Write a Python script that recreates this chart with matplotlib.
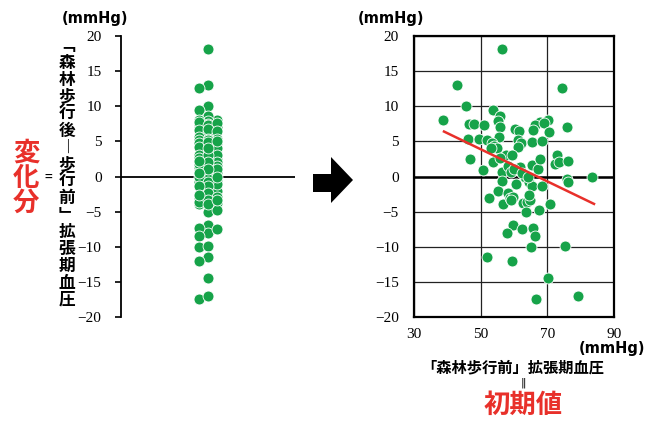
import numpy as np
import matplotlib
matplotlib.use("Agg")
import matplotlib.pyplot as plt
from matplotlib.patches import Polygon

# initial (pre-walk) diastolic pressure, mmHg
x_init = [56.3, 43.0, 74.3, 45.5, 38.6, 53.6, 55.8, 55.1, 55.9, 46.6,
          48.0, 51.0, 75.8, 70.3, 67.8, 66.3, 69.0, 65.8, 70.5, 60.3,
          61.6, 46.3, 49.5, 55.5, 52.0, 53.3, 54.0, 54.8, 61.3, 62.2,
          61.1, 65.4, 68.3, 46.8, 57.5, 59.4, 53.6, 55.8, 50.6, 56.3,
          58.3, 59.0, 61.8, 65.3, 67.3, 67.8, 72.8, 72.3, 73.6, 76.2,
          83.3, 75.8, 76.2, 56.3, 55.3, 60.5, 63.3, 64.4, 65.3, 68.4,
          56.8, 52.6, 58.3, 58.8, 59.8, 62.8, 63.8, 64.8, 64.6, 63.6,
          67.6, 70.8, 59.8, 58.0, 62.3, 65.6, 66.4, 65.1, 75.3, 52.0,
          59.4, 70.3, 66.5, 79.3, 53.0, 60.0, 62.3, 59.0, 64.2]
# change (after - before), mmHg
y_change = [18.2, 13.0, 12.6, 10.0, 8.1, 9.4, 8.6, 7.9, 7.1, 7.5,
            7.5, 7.4, 7.1, 8.1, 7.8, 7.3, 7.6, 6.6, 6.4, 6.7,
            6.5, 5.3, 5.3, 5.6, 5.2, 4.7, 4.4, 4.0, 5.2, 4.7,
            4.2, 4.9, 5.0, 2.5, 3.1, 3.0, 2.0, 2.6, 0.9, 0.7,
            1.5, 0.7, 1.3, 1.6, 1.0, 2.5, 3.0, 1.8, 2.1, 2.2,
            0.0, -0.3, -0.8, -0.6, -2.0, -1.0, -0.1, -0.8, -1.3, -1.4,
            -3.9, -3.0, -2.4, -3.0, -2.9, -3.8, -3.7, -3.4, -2.7, -5.0,
            -4.7, -3.9, -6.9, -8.0, -7.5, -7.4, -8.5, -10.1, -9.9, -11.4,
            -12.0, -14.5, -17.5, -17.0, 4.0, 1.1, 0.5, -3.3, 0.0]

# regression line end points
fit_x = [39.0, 84.0]
fit_y = [6.4, -3.9]

y_ticks = [20, 15, 10, 5, 0, -5, -10, -15, -20]
x_ticks = [30, 50, 70, 90]

GREEN = "#16a349"
RED = "#e8302a"
JP = "Noto Sans CJK JP"
SERIF = "Liberation Serif"

W, H = 653, 421


def fx(px):
    return px / W


def fy(py):
    return 1 - py / H


def swarm(values, step=1.1):
    # simple column packing for the dot strip
    order = np.argsort(values)[::-1]
    cols = [0, -1, 1]
    placed = {c: [] for c in cols}
    out = np.zeros(len(values))
    for i in order:
        v = values[i]
        best, best_gap = cols[0], -1
        for c in cols:
            gap = min([abs(v - u) for u in placed[c]], default=99)
            if gap >= step:
                best = c
                break
            if gap > best_gap:
                best, best_gap = c, gap
        placed[best].append(v)
        out[i] = best
    return out


def fmt_tick(v):
    return str(v).replace("-", "\u2212")


fig = plt.figure(figsize=(W / 100, H / 100), dpi=100)

# left: dot strip of changes
ax1 = fig.add_axes([fx(121), fy(317), fx(295 - 121), fy(36) - fy(317)])
offs = swarm(np.array(y_change))
ax1.scatter(0.5 + offs * 0.052, y_change, s=62, color=GREEN,
            edgecolors="white", linewidths=0.6, zorder=3)
ax1.axhline(0, color="black", lw=1.3, zorder=2)
ax1.set_xlim(0, 1)
ax1.set_ylim(-20, 20)
for side in ["top", "right", "bottom"]:
    ax1.spines[side].set_visible(False)
ax1.spines["left"].set_linewidth(1.3)
ax1.set_xticks([])
ax1.set_yticks(y_ticks)
ax1.set_yticklabels([fmt_tick(v) for v in y_ticks], fontfamily=SERIF, fontsize=11)
ax1.tick_params(axis="y", length=4, width=1.2, pad=10)

# right: change vs initial value
ax2 = fig.add_axes([fx(414), fy(317), fx(614 - 414), fy(36) - fy(317)])
ax2.scatter(x_init, y_change, s=62, color=GREEN,
            edgecolors="white", linewidths=0.6, zorder=3)
ax2.plot(fit_x, fit_y, color=RED, lw=1.8, zorder=4)
ax2.set_xlim(30, 90)
ax2.set_ylim(-20, 20)
ax2.set_xticks(x_ticks)
ax2.set_xticklabels([str(v) for v in x_ticks], fontfamily=SERIF, fontsize=11)
ax2.set_yticks(y_ticks)
ax2.set_yticklabels([fmt_tick(v) for v in y_ticks], fontfamily=SERIF, fontsize=11)
ax2.tick_params(length=0, pad=11)
ax2.tick_params(axis="x", pad=8)
ax2.grid(True, color="#222222", lw=0.9, zorder=1)
ax2.axhline(0, color="black", lw=1.8, zorder=2)
for s in ax2.spines.values():
    s.set_linewidth(1.6)

# unit labels
fig.text(fx(95), fy(18), "(mmHg)", ha="center", va="center",
         fontsize=10.5, fontweight="bold")
fig.text(fx(391), fy(18), "(mmHg)", ha="center", va="center",
         fontsize=10.5, fontweight="bold")
fig.text(fx(612), fy(349), "(mmHg)", ha="center", va="center",
         fontsize=10.5, fontweight="bold")

# vertical y-axis caption, one character per line
ylabel_chars = ["\ufe41", "森", "林", "歩", "行", "後", "\ufe31", "歩", "行", "前",
                "\ufe42", "拡", "張", "期", "血", "圧"]
for i, ch in enumerate(ylabel_chars):
    fig.text(fx(67), fy(46 + i * 16.9), ch, ha="center", va="center",
             fontsize=12, fontweight="bold", family=[JP, "DejaVu Sans"])

for i, ch in enumerate("変化分"):
    fig.text(fx(26), fy(153 + i * 25), ch, ha="center", va="center",
             fontsize=19, fontweight="bold", color=RED, family=[JP])
fig.text(fx(48), fy(178), "=", ha="center", va="center", fontsize=10,
         family=[JP])

# x-axis caption
fig.text(fx(513), fy(367), "「森林歩行前」拡張期血圧", ha="center", va="center",
         fontsize=11, fontweight="bold", family=[JP])
fig.text(fx(523), fy(383), "\u2016", ha="center", va="center", fontsize=8,
         family=["DejaVu Sans"])
fig.text(fx(523), fy(405), "初期値", ha="center", va="center",
         fontsize=19, fontweight="bold", color=RED, family=[JP])

# block arrow between panels
arrow_px = [(313, 174), (331, 174), (331, 157), (353, 180),
            (331, 203), (331, 192), (313, 192)]
fig.patches.append(Polygon([(fx(a), fy(b)) for a, b in arrow_px], closed=True,
                           facecolor="black", edgecolor="none",
                           transform=fig.transFigure, figure=fig))

fig.savefig("out.png", dpi=100)
